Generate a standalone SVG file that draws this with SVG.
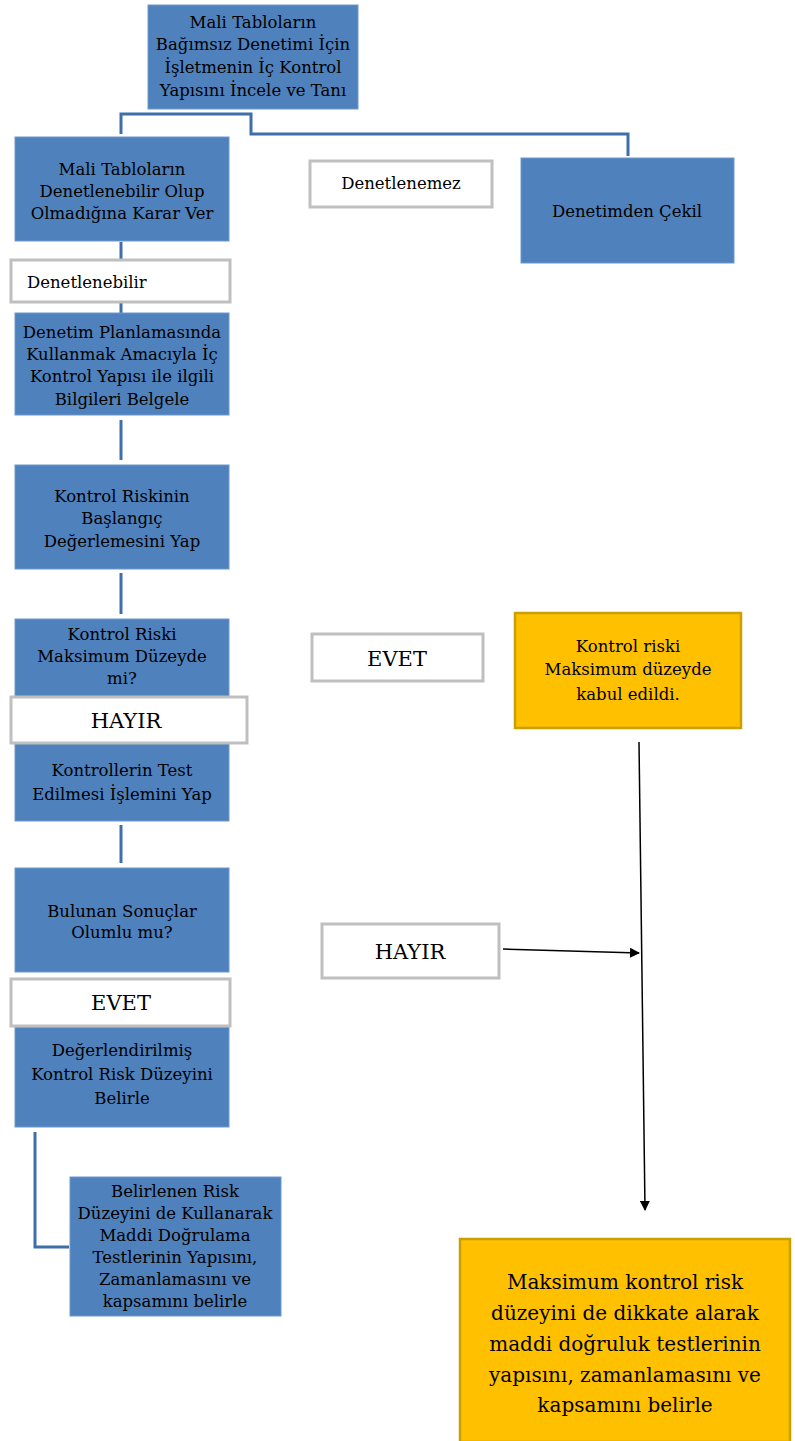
<svg xmlns="http://www.w3.org/2000/svg" width="795" height="1441" viewBox="0 0 795 1441" font-family="'DejaVu Serif', 'Liberation Serif', serif">
<style>
.blue{fill:#4F81BD;stroke:#6F97CC;stroke-width:1}
.lbl{fill:#FFFFFF;stroke:#BFBFBF;stroke-width:3}
.yel{fill:#FFC000;stroke:#C9A000;stroke-width:2.5}
.t,.tb,.ty,.tyb{font-family:'DejaVu Serif','Liberation Serif',serif;fill:#000;text-anchor:middle}
.t{font-size:16.5px}
.tb{font-size:21px}
.ty{font-size:16.5px}
.tyb{font-size:20px}
.conn{fill:none;stroke:#3F6FAA;stroke-width:3}
.arr{fill:none;stroke:#000;stroke-width:1.5}
</style>
<defs>
<marker id="ah" markerWidth="10" markerHeight="10" refX="9" refY="5" orient="auto" markerUnits="userSpaceOnUse">
<path d="M0,0 L10,5 L0,10 z" fill="#000"/>
</marker>
</defs>
<g id="connectors">
<polyline class="conn" points="121,134 121,114 251,114 251,134 628,134 628,156"/>
<line class="conn" x1="121" y1="242" x2="121" y2="259"/>
<line class="conn" x1="121" y1="302" x2="121" y2="313"/>
<line class="conn" x1="121" y1="420" x2="121" y2="460"/>
<line class="conn" x1="121" y1="573" x2="121" y2="614"/>
<line class="conn" x1="121" y1="825" x2="121" y2="863"/>
<polyline class="conn" points="35,1132 35,1247 69,1247"/>
<line class="arr" x1="503" y1="949" x2="639" y2="953" marker-end="url(#ah)"/>
<line class="arr" x1="639" y1="742" x2="645" y2="1210" marker-end="url(#ah)"/>
</g>
<g id="n1"><rect class="blue" x="148" y="5" width="210" height="104"/>
<text class="t" x="253" y="28">Mali Tabloların</text>
<text class="t" x="253" y="50">Bağımsız Denetimi İçin</text>
<text class="t" x="253" y="73">İşletmenin İç Kontrol</text>
<text class="t" x="253" y="96">Yapısını İncele ve Tanı</text></g>
<g id="n2"><rect class="blue" x="15" y="137" width="214" height="104"/>
<text class="t" x="122" y="175">Mali Tabloların</text>
<text class="t" x="122" y="197">Denetlenebilir Olup</text>
<text class="t" x="122" y="219">Olmadığına Karar Ver</text></g>
<g id="n3"><rect class="lbl" x="310" y="161" width="182" height="46"/>
<text class="t" x="401" y="189">Denetlenemez</text></g>
<g id="n4"><rect class="blue" x="521" y="158" width="213" height="105"/>
<text class="t" x="627" y="217">Denetimden Çekil</text></g>
<g id="n5"><rect class="lbl" x="11" y="260" width="219" height="42"/>
<text class="t" x="27" y="288" style="text-anchor:start">Denetlenebilir</text></g>
<g id="n6"><rect class="blue" x="15" y="313" width="214" height="102"/>
<text class="t" x="122" y="338">Denetim Planlamasında</text>
<text class="t" x="122" y="360">Kullanmak Amacıyla İç</text>
<text class="t" x="122" y="382">Kontrol Yapısı ile ilgili</text>
<text class="t" x="122" y="405">Bilgileri Belgele</text></g>
<g id="n7"><rect class="blue" x="15" y="465" width="214" height="104"/>
<text class="t" x="122" y="502">Kontrol Riskinin</text>
<text class="t" x="122" y="524">Başlangıç</text>
<text class="t" x="122" y="547">Değerlemesini Yap</text></g>
<g id="n8"><rect class="blue" x="15" y="619" width="214" height="80"/>
<text class="t" x="122" y="640">Kontrol Riski</text>
<text class="t" x="122" y="662">Maksimum Düzeyde</text>
<text class="t" x="122" y="684">mi?</text></g>
<g id="n10"><rect class="blue" x="15" y="743" width="214" height="78"/>
<text class="t" x="122" y="776">Kontrollerin Test</text>
<text class="t" x="122" y="800">Edilmesi İşlemini Yap</text></g>
<g id="n9"><rect class="lbl" x="11" y="697" width="236" height="46"/>
<text class="tb" x="126" y="728">HAYIR</text></g>
<g id="n11"><rect class="lbl" x="312" y="634" width="171" height="47"/>
<text class="tb" x="397" y="666">EVET</text></g>
<g id="n12"><rect class="yel" x="515" y="613" width="226" height="115"/>
<text class="ty" x="628" y="652">Kontrol riski</text>
<text class="ty" x="628" y="675">Maksimum düzeyde</text>
<text class="ty" x="628" y="700">kabul edildi.</text></g>
<g id="n13"><rect class="blue" x="15" y="868" width="214" height="104"/>
<text class="t" x="122" y="917">Bulunan Sonuçlar</text>
<text class="t" x="122" y="938">Olumlu mu?</text></g>
<g id="n15"><rect class="blue" x="15" y="1027" width="214" height="100"/>
<text class="t" x="122" y="1056">Değerlendirilmiş</text>
<text class="t" x="122" y="1080">Kontrol Risk Düzeyini</text>
<text class="t" x="122" y="1104">Belirle</text></g>
<g id="n14"><rect class="lbl" x="11" y="979" width="219" height="47"/>
<text class="tb" x="121" y="1010">EVET</text></g>
<g id="n16"><rect class="lbl" x="322" y="924" width="177" height="54"/>
<text class="tb" x="410" y="959">HAYIR</text></g>
<g id="n17"><rect class="blue" x="70" y="1177" width="211" height="139"/>
<text class="t" x="175" y="1197">Belirlenen Risk</text>
<text class="t" x="175" y="1219">Düzeyini de Kullanarak</text>
<text class="t" x="175" y="1241">Maddi Doğrulama</text>
<text class="t" x="175" y="1263">Testlerinin Yapısını,</text>
<text class="t" x="175" y="1285">Zamanlamasını ve</text>
<text class="t" x="175" y="1307">kapsamını belirle</text></g>
<g id="n18"><rect class="yel" x="460" y="1239" width="330" height="203"/>
<text class="tyb" x="625" y="1289">Maksimum kontrol risk</text>
<text class="tyb" x="625" y="1320">düzeyini de dikkate alarak</text>
<text class="tyb" x="625" y="1351">maddi doğruluk testlerinin</text>
<text class="tyb" x="625" y="1382">yapısını, zamanlamasını ve</text>
<text class="tyb" x="625" y="1412">kapsamını belirle</text></g>
</svg>
